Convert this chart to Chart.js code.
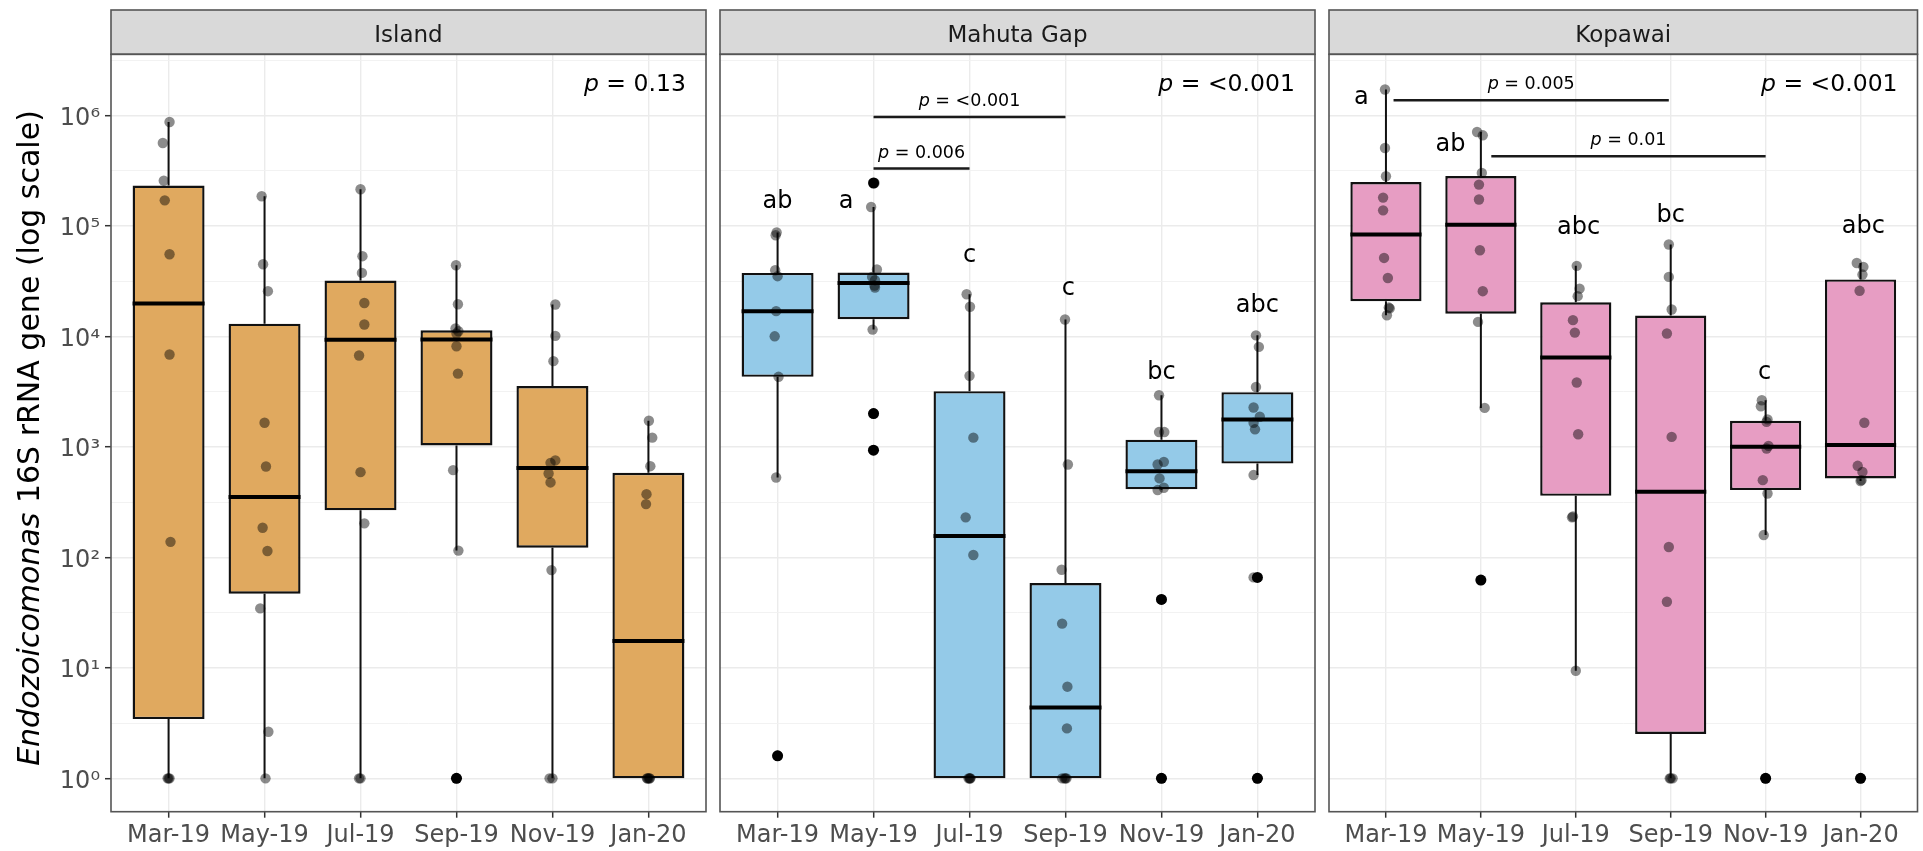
<!DOCTYPE html>
<html>
<head>
<meta charset="utf-8">
<script src="https://cdn.jsdelivr.net/npm/chart.js@4.4.1/dist/chart.umd.min.js"></script>
<style>
  html, body { margin: 0; padding: 0; background: #fff; }
  #wrap { position: relative; width: 1923px; height: 851px; overflow: hidden; background: #fff; }
  canvas { position: absolute; top: 0; }
</style>
</head>
<body>
<div id="wrap">
  <canvas id="c1" width="712" height="851" style="left:0px;width:712px;height:851px"></canvas>
  <canvas id="c2" width="609" height="851" style="left:713px;width:609px;height:851px"></canvas>
  <canvas id="c3" width="601" height="851" style="left:1322px;width:601px;height:851px"></canvas>
</div>
<script>
// ---- categories and labels ----
const months = ['Mar-19', 'May-19', 'Jul-19', 'Sep-19', 'Nov-19', 'Jan-20'];
const sites = ['Island', 'Mahuta Gap', 'Kopawai'];
const siteFills = ['#E0A95F', '#94CAE8', '#E79DC3'];
const yTickValues = [1, 10, 100, 1000, 10000, 100000, 1000000];
const yTickLabels = ['10\u2070', '10\u00B9', '10\u00B2', '10\u00B3', '10\u2074', '10\u2075', '10\u2076'];
const overallP = ['0.13', '<0.001', '<0.001'];

// ---- Island ----
const islandQ1 = [3.44, 46.8, 266, 1030, 122, 1];
const islandMedian = [19800, 351, 9310, 9350, 643, 17.5];
const islandQ3 = [231000, 13000, 32000, 11350, 3550, 582];
const islandWhiskerLow = [1, 1, 1, 115, 1, 1];
const islandWhiskerHigh = [869000, 185000, 214000, 44000, 19400, 1720];
const islandOutliers = [[], [], [], [1], [], []];
const islandPoints = [
  [869000, 561000, 256000, 170000, 55300, 6840, 138, 1, 1, 1],
  [185000, 44900, 25600, 1650, 664, 185, 114, 34.5, 2.64, 1],
  [214000, 53100, 37500, 20000, 12800, 6700, 590, 203, 1, 1],
  [44000, 19500, 11800, 11100, 10600, 8130, 4600, 615, 115, 1],
  [19400, 10100, 5960, 753, 716, 574, 476, 76.6, 1, 1],
  [1720, 1210, 668, 373, 303, 1, 1, 1, 1, 1]
];
const islandJitter = [
  [0.01, -0.06, -0.05, -0.04, 0.01, 0.01, 0.02, 0, -0.01, 0.01],
  [-0.03, -0.015, 0.035, 0, 0.015, -0.02, 0.03, -0.045, 0.04, 0.01],
  [0, 0.02, 0.015, 0.04, 0.04, -0.015, 0, 0.04, -0.015, 0],
  [-0.005, 0.015, -0.01, 0.02, 0, 0, 0.015, -0.035, 0.02, 0],
  [0.03, 0.03, 0.01, 0.03, -0.02, -0.04, -0.02, -0.01, -0.03, 0],
  [0.005, 0.04, 0.02, -0.02, -0.025, 0, 0.015, -0.015, 0.01, -0.01]
];

// ---- Mahuta Gap ----
const mahutaQ1 = [4300, 14300, 1, 1, 412, 705];
const mahutaMedian = [16900, 30400, 156, 4.38, 601, 1770];
const mahutaQ3 = [37500, 37800, 3190, 58.5, 1160, 3120];
const mahutaWhiskerLow = [528, 11500, 1, 1, 406, 555];
const mahutaWhiskerHigh = [86900, 148000, 24000, 14200, 2930, 10200];
const mahutaOutliers = [[1.6], [244000, 2000, 933], [], [], [41.6, 1], [65.8, 1]];
const mahutaPoints = [
  [86900, 82200, 39600, 35000, 16900, 10000, 4300, 528, 1.6],
  [244000, 148000, 40200, 34500, 32200, 28800, 27600, 11500, 2000, 933],
  [24000, 18500, 4390, 1210, 230, 105, 1, 1, 1, 1],
  [14200, 692, 77.1, 25.1, 6.75, 2.83, 1, 1, 1, 1],
  [2930, 1360, 1360, 731, 692, 518, 426, 406, 41.6, 1],
  [10200, 8020, 3480, 2270, 1870, 1650, 1440, 555, 65.8, 1]
];
const mahutaJitter = [
  [-0.01, -0.02, -0.025, 0, -0.015, -0.03, 0.01, -0.015, 0],
  [0.01, -0.025, 0.035, -0.015, 0.015, 0.01, 0.015, -0.01, 0, -0.005],
  [-0.03, 0.005, 0, 0.04, -0.04, 0.04, 0, 0.01, -0.01, 0.005],
  [-0.005, 0.025, -0.04, -0.035, 0.02, 0.015, -0.035, 0, 0.01, -0.01],
  [-0.025, -0.025, 0.03, 0.025, -0.04, -0.02, 0.025, -0.04, 0, 0],
  [-0.015, 0.015, -0.015, -0.04, 0.025, -0.04, -0.025, -0.04, -0.04, 0]
];
const mahutaLetters = ['ab', 'a', 'c', 'c', 'bc', 'abc'];
const mahutaLetterAt = [146000, 146000, 47100, 23600, 4090, 16600];
const mahutaLetterShift = [0, -0.285, 0, 0.03, 0, 0];
const mahutaPairs = [[1, 3], [1, 2]];
const mahutaPairP = ['<0.001', '0.006'];
const mahutaPairAt = [966000, 330000];

// ---- Kopawai ----
const kopawaiQ1 = [20800, 16000, 360, 2.52, 406, 518];
const kopawaiMedian = [83400, 102000, 6430, 392, 1000, 1040];
const kopawaiQ3 = [249000, 282000, 20300, 15400, 1720, 32700];
const kopawaiWhiskerLow = [15500, 2250, 9.4, 1, 159, 490];
const kopawaiWhiskerHigh = [1710000, 706000, 43400, 67800, 2640, 46100];
const kopawaiOutliers = [[], [62.2], [], [], [1], [1]];
const kopawaiPoints = [
  [1710000, 506000, 281000, 180000, 138000, 51200, 33700, 18200, 17900, 15500],
  [706000, 659000, 301000, 236000, 173000, 60100, 25600, 13500, 2250, 62.2],
  [43400, 27000, 23100, 14000, 10800, 3820, 1300, 234, 230, 9.4],
  [67800, 34500, 17500, 10600, 1230, 124, 39.6, 1, 1, 1],
  [2640, 2330, 1770, 1680, 1020, 966, 499, 378, 159, 1],
  [46100, 42500, 36200, 25800, 1650, 673, 593, 499, 490, 1]
];
const kopawaiJitter = [
  [-0.01, -0.01, 0, -0.03, -0.03, -0.02, 0.02, 0.03, 0.04, 0.01],
  [-0.04, 0.02, 0.01, -0.02, -0.02, -0.01, 0.02, -0.03, 0.04, 0],
  [0.01, 0.04, 0.02, -0.03, -0.01, 0.01, 0.025, -0.03, -0.04, 0],
  [-0.02, -0.02, 0.01, -0.04, 0.01, -0.02, -0.04, 0, 0.02, -0.01],
  [-0.04, -0.05, 0.02, 0.01, 0.03, 0.01, -0.03, 0.02, -0.02, 0],
  [-0.04, 0.03, 0.02, -0.01, 0.04, -0.03, 0.02, 0.01, 0, 0]
];
const kopawaiLetters = ['a', 'ab', 'abc', 'bc', 'c', 'abc'];
const kopawaiLetterAt = [1276000, 475000, 85100, 108000, 4150, 86900];
const kopawaiLetterShift = [-0.26, -0.32, 0.03, 0, -0.01, 0.03];
const kopawaiPairs = [[0.08, 2.98], [1.11, 4.0]];
const kopawaiPairP = ['0.005', '0.01'];
const kopawaiPairAt = [1368000, 426000];

// ---- layout / style constants ----
const FAMILY = '"DejaVu Sans", "Liberation Sans", sans-serif';
const BOX_WIDTH = 0.75;
const Y_MIN = Math.pow(10, -0.302);
const Y_MAX = Math.pow(10, 6.552);
const PANEL_TOP = 54.3;
const STRIP_TOP = 10;
const AXIS_HEIGHT = 39.3;
const OVERALL_P_X = 5.39;
const OVERALL_P_AT = 1660000;

function drawRich(ctx, parts, x, y, size, align) {
  const widths = parts.map(p => {
    ctx.font = (p.italic ? 'italic ' : '') + size + 'px ' + FAMILY;
    return ctx.measureText(p.text).width;
  });
  const total = widths.reduce((a, b) => a + b, 0);
  let cx = align === 'right' ? x - total : align === 'center' ? x - total / 2 : x;
  ctx.textAlign = 'left';
  parts.forEach((p, i) => {
    ctx.font = (p.italic ? 'italic ' : '') + size + 'px ' + FAMILY;
    ctx.fillText(p.text, cx, y);
    cx += widths[i];
  });
}
const pText = v => [{ text: 'p', italic: true }, { text: ' = ' + v }];

function decor(p) {
  return {
    id: 'decor_' + p.canvas,
    afterDatasetsDraw(chart) {
      const { ctx, scales: { x, y } } = chart;
      ctx.save();
      ctx.fillStyle = '#000';
      ctx.textBaseline = 'alphabetic';
      if (p.letters) {
        ctx.font = '24px ' + FAMILY;
        ctx.textAlign = 'center';
        p.letters.forEach((t, i) => {
          ctx.fillText(t, x.getPixelForValue(i + p.letterShift[i]), y.getPixelForValue(p.letterAt[i]));
        });
      }
      p.pairs.forEach((pr, k) => {
        const mid = (x.getPixelForValue(pr[0]) + x.getPixelForValue(pr[1])) / 2;
        drawRich(ctx, pText(p.pairP[k]), mid, y.getPixelForValue(p.pairAt[k]) - 11, 17.5, 'center');
      });
      drawRich(ctx, pText(p.overall), x.getPixelForValue(OVERALL_P_X), y.getPixelForValue(OVERALL_P_AT), 23.5, 'right');
      ctx.restore();
    },
    afterDraw(chart) {
      const { ctx, chartArea: a } = chart;
      ctx.save();
      ctx.fillStyle = '#D9D9D9';
      ctx.fillRect(a.left, STRIP_TOP, a.right - a.left, a.top - STRIP_TOP);
      ctx.strokeStyle = '#555';
      ctx.lineWidth = 1.6;
      ctx.strokeRect(a.left, STRIP_TOP, a.right - a.left, a.top - STRIP_TOP);
      ctx.strokeRect(a.left, a.top, a.right - a.left, a.bottom - a.top);
      ctx.fillStyle = '#1A1A1A';
      ctx.font = '23px ' + FAMILY;
      ctx.textAlign = 'center';
      ctx.textBaseline = 'alphabetic';
      ctx.fillText(p.site, (a.left + a.right) / 2, 41.7);
      if (p.axis) {
        ctx.translate(31, 438);
        ctx.rotate(-Math.PI / 2);
        ctx.fillStyle = '#000';
        ctx.textBaseline = 'middle';
        drawRich(ctx, [{ text: 'Endozoicomonas', italic: true }, { text: ' 16S rRNA gene (log scale)' }], 0, 0, 30, 'center');
      }
      ctx.restore();
    }
  };
}

function gridTicks() {
  const t = [];
  yTickValues.forEach(v => {
    t.push({ value: v, major: true });
    if (v * Math.sqrt(10) < Y_MAX) t.push({ value: v * Math.sqrt(10), major: false });
  });
  return t;
}

function buildPanel(p) {
  const boxes = p.q1.map((q, i) => ({ x: i, y: [q, p.q3[i]] }));
  const whiskers = [];
  const medians = [];
  const jitter = [];
  const outliers = [];
  const brackets = [];
  for (let i = 0; i < months.length; i++) {
    whiskers.push({ x: i, y: p.low[i] }, { x: i, y: p.q1[i] }, { x: i, y: null },
                  { x: i, y: p.q3[i] }, { x: i, y: p.high[i] }, { x: i, y: null });
    medians.push({ x: i - BOX_WIDTH / 2, y: p.median[i] }, { x: i + BOX_WIDTH / 2, y: p.median[i] }, { x: i, y: null });
    p.points[i].forEach((v, k) => jitter.push({ x: i + p.jitter[i][k], y: v }));
    p.outliers[i].forEach(v => outliers.push({ x: i, y: v }));
  }
  p.pairs.forEach((pr, k) => {
    brackets.push({ x: pr[0], y: p.pairAt[k] }, { x: pr[1], y: p.pairAt[k] }, { x: pr[1], y: null });
  });

  const yScale = {
    type: 'logarithmic', min: Y_MIN, max: Y_MAX, bounds: 'data',
    afterBuildTicks: s => { s.ticks = gridTicks(); },
    afterFit: s => { s.width = p.axis ? 111 : 0; s.paddingTop = 0; s.paddingBottom = 0; },
    ticks: {
      display: p.axis,
      callback: (v, i, ticks) => ticks[i].major ? yTickLabels[yTickValues.indexOf(v)] : '',
      font: { family: FAMILY, size: 24 }, color: '#4D4D4D', padding: 5, labelOffset: 3,
      autoSkip: false
    },
    grid: {
      color: c => (c.tick && c.tick.major) ? '#EBEBEB' : '#F0F0F0',
      lineWidth: c => (c.tick && c.tick.major) ? 1.4 : 0.9,
      drawTicks: p.axis, tickLength: 6, tickWidth: 1.5,
      tickColor: c => (c.tick && c.tick.major) ? '#333' : 'rgba(0,0,0,0)'
    },
    border: { display: false }
  };

  new Chart(document.getElementById(p.canvas), {
    type: 'scatter',
    data: {
      datasets: [
        { type: 'scatter', data: jitter, order: 0, pointRadius: 5.2, pointBackgroundColor: 'rgba(0,0,0,0.45)', pointBorderWidth: 0 },
        { type: 'scatter', data: outliers, order: 1, pointRadius: 5.5, pointBackgroundColor: '#000', pointBorderWidth: 0 },
        { type: 'line', data: brackets, order: 2, borderColor: '#1A1A1A', borderWidth: 2.4, pointRadius: 0, spanGaps: false, fill: false },
        { type: 'line', data: medians, order: 3, borderColor: '#000', borderWidth: 4, borderCapStyle: 'butt', pointRadius: 0, spanGaps: false, fill: false },
        { type: 'bar', data: boxes, order: 4, backgroundColor: p.fill, borderColor: '#111', borderWidth: 2.4, borderSkipped: false,
          categoryPercentage: BOX_WIDTH, barPercentage: 1.0 },
        { type: 'line', data: whiskers, order: 5, borderColor: '#111', borderWidth: 2, pointRadius: 0, spanGaps: false, fill: false }
      ]
    },
    options: {
      responsive: false, animation: false, events: [],
      layout: { padding: { left: p.padLeft, right: p.padRight, top: PANEL_TOP, bottom: 0 } },
      plugins: { legend: { display: false }, tooltip: { enabled: false } },
      scales: {
        x: {
          type: 'linear', min: -0.6, max: 5.6, bounds: 'data', offset: false,
          afterBuildTicks: s => { s.ticks = months.map((m, i) => ({ value: i })); },
          afterFit: s => { s.height = AXIS_HEIGHT; s.paddingLeft = 0; s.paddingRight = 0; },
          ticks: {
            callback: v => months[v], font: { family: FAMILY, size: 24 }, color: '#4D4D4D',
            padding: 4, maxRotation: 0, minRotation: 0, autoSkip: false
          },
          grid: { color: '#EBEBEB', lineWidth: 1.4, offset: false, tickColor: '#333', tickLength: 6, tickWidth: 1.5 },
          border: { display: false }
        },
        y: yScale
      }
    },
    plugins: [decor(p)]
  });
}

buildPanel({
  canvas: 'c1', site: sites[0], fill: siteFills[0], overall: overallP[0], axis: true, padLeft: 0, padRight: 6,
  q1: islandQ1, median: islandMedian, q3: islandQ3, low: islandWhiskerLow, high: islandWhiskerHigh,
  points: islandPoints, jitter: islandJitter, outliers: islandOutliers,
  letters: null, pairs: [], pairP: [], pairAt: []
});
buildPanel({
  canvas: 'c2', site: sites[1], fill: siteFills[1], overall: overallP[1], axis: false, padLeft: 7, padRight: 7,
  q1: mahutaQ1, median: mahutaMedian, q3: mahutaQ3, low: mahutaWhiskerLow, high: mahutaWhiskerHigh,
  points: mahutaPoints, jitter: mahutaJitter, outliers: mahutaOutliers,
  letters: mahutaLetters, letterAt: mahutaLetterAt, letterShift: mahutaLetterShift,
  pairs: mahutaPairs, pairP: mahutaPairP, pairAt: mahutaPairAt
});
buildPanel({
  canvas: 'c3', site: sites[2], fill: siteFills[2], overall: overallP[2], axis: false, padLeft: 7, padRight: 0,
  q1: kopawaiQ1, median: kopawaiMedian, q3: kopawaiQ3, low: kopawaiWhiskerLow, high: kopawaiWhiskerHigh,
  points: kopawaiPoints, jitter: kopawaiJitter, outliers: kopawaiOutliers,
  letters: kopawaiLetters, letterAt: kopawaiLetterAt, letterShift: kopawaiLetterShift,
  pairs: kopawaiPairs, pairP: kopawaiPairP, pairAt: kopawaiPairAt
});
</script>
</body>
</html>
